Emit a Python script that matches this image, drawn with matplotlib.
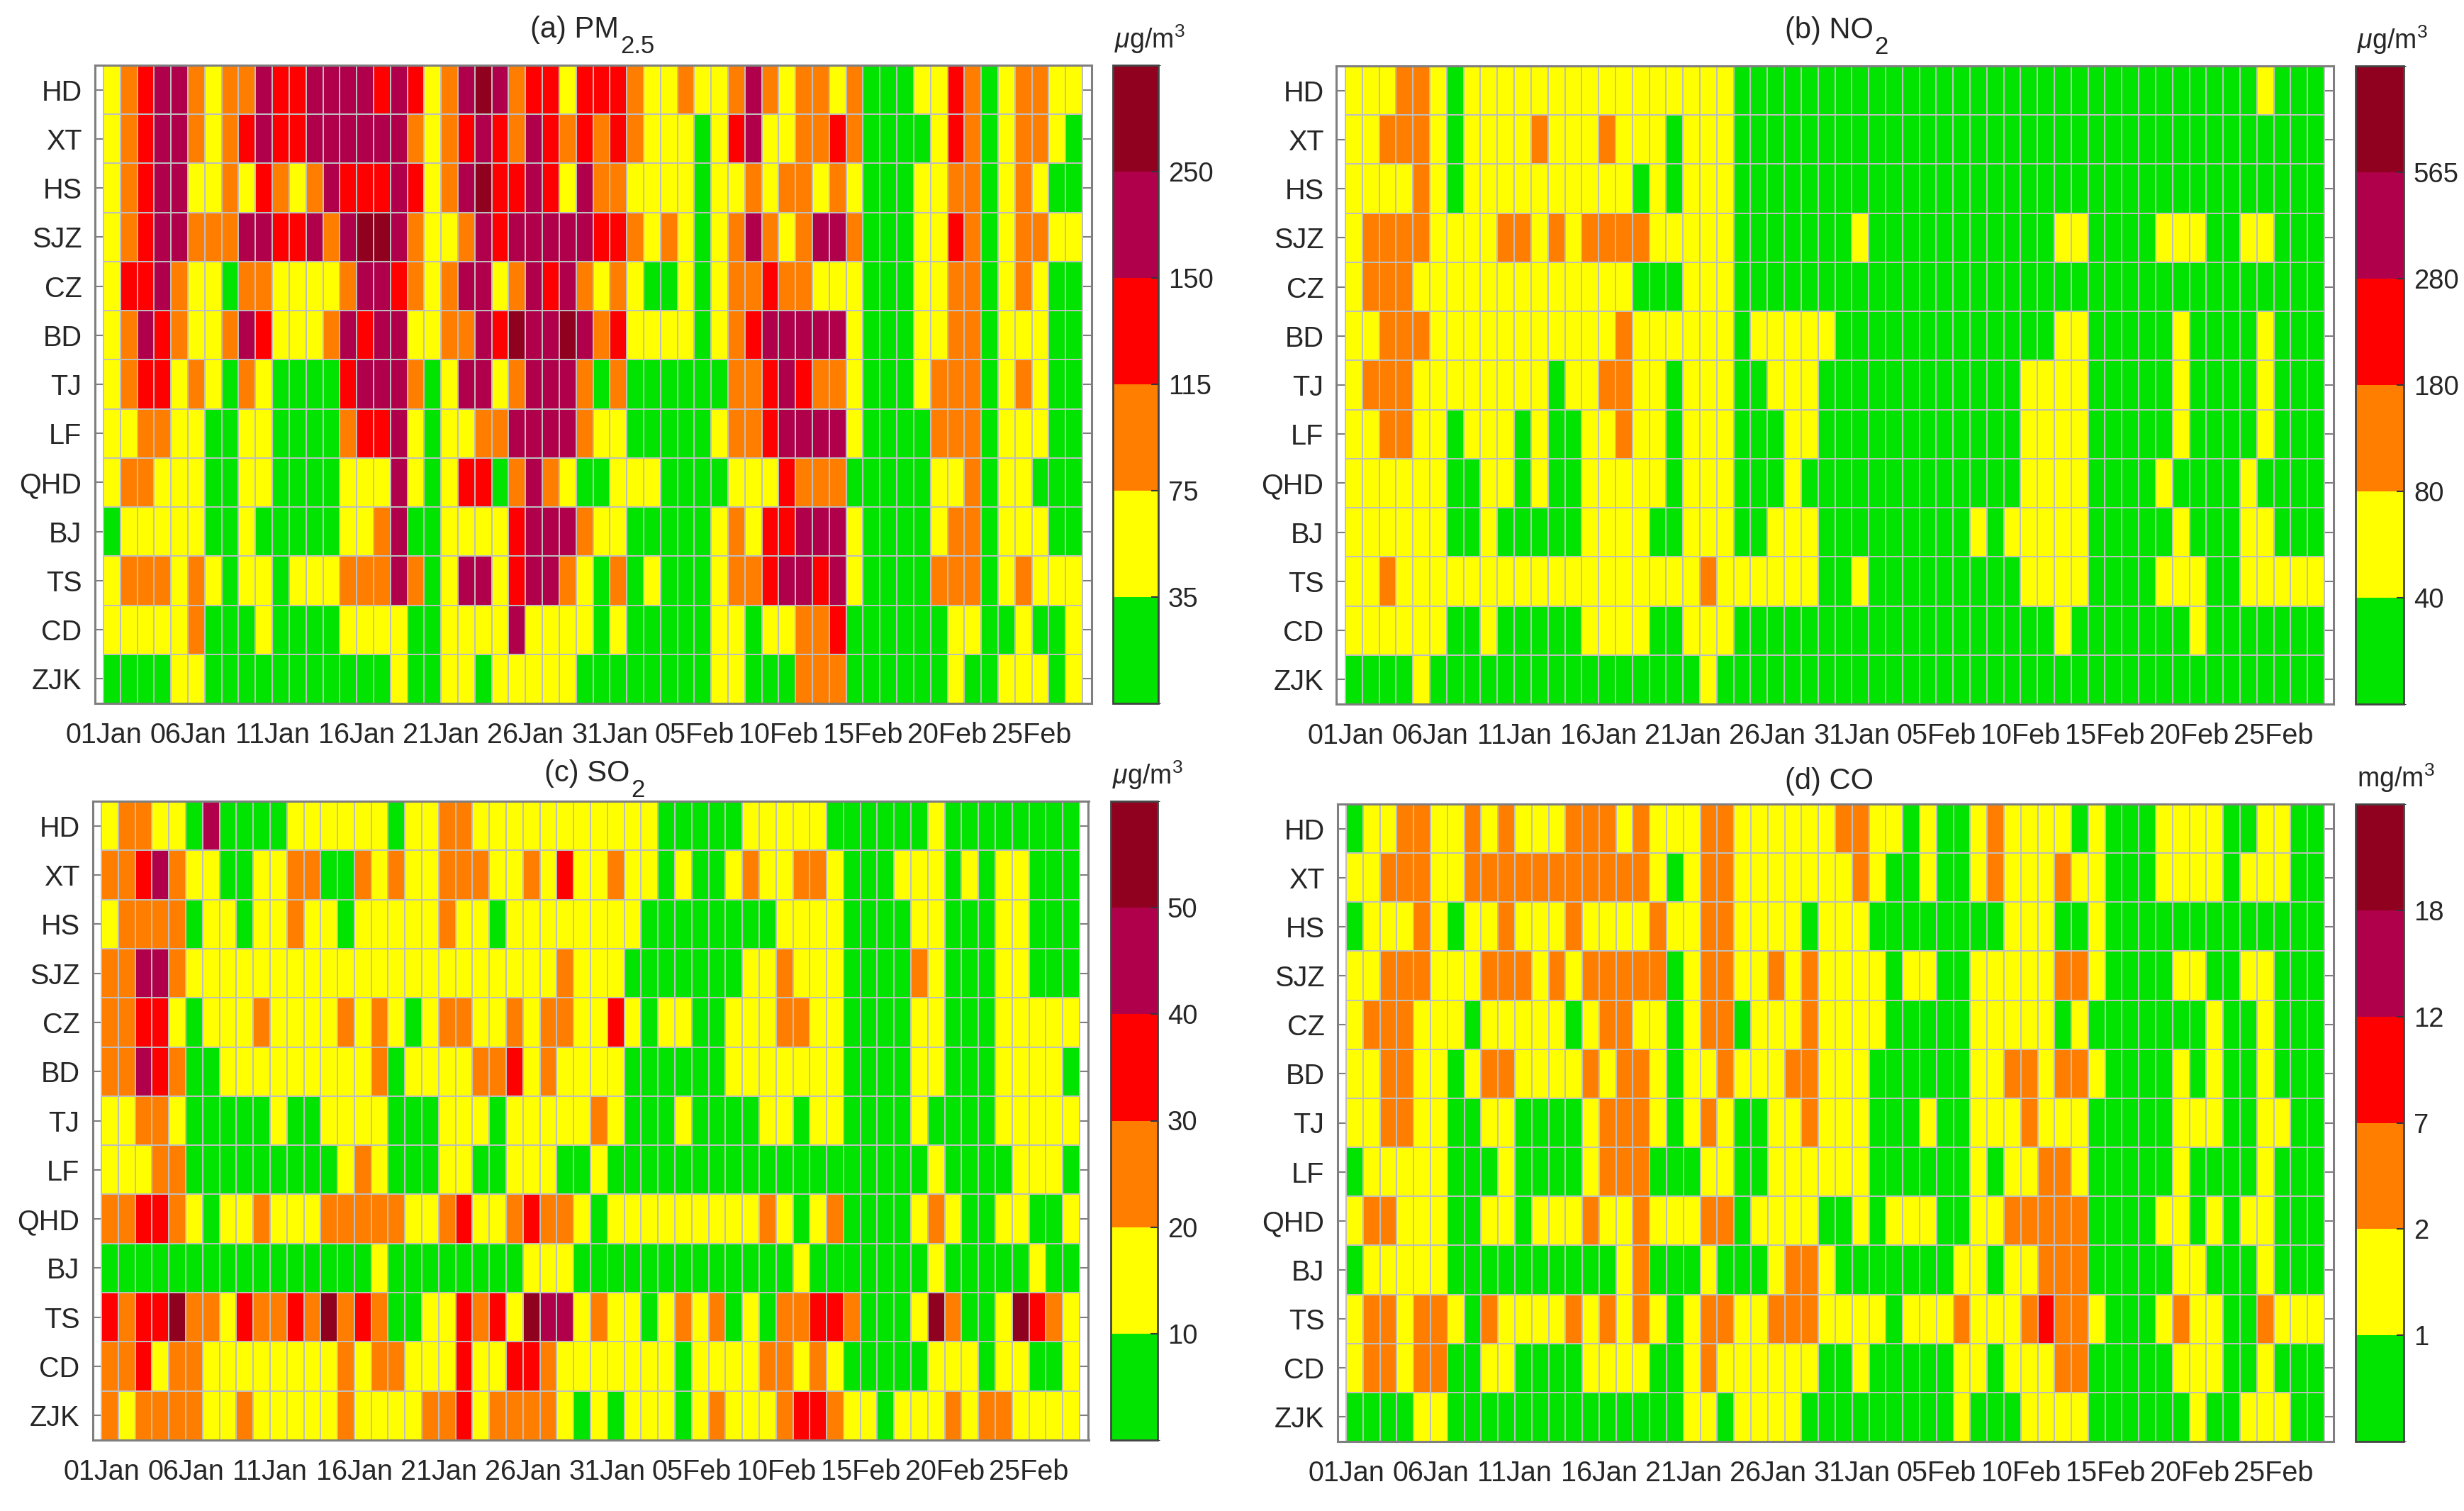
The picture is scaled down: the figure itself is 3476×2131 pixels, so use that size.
import numpy as np
import matplotlib
matplotlib.use("Agg")
import matplotlib.pyplot as plt
from matplotlib.colors import BoundaryNorm, ListedColormap

plt.rcParams["font.family"] = ["Liberation Sans", "DejaVu Sans"]
plt.rcParams["mathtext.fontset"] = "custom"
plt.rcParams["mathtext.rm"] = "Liberation Sans"
plt.rcParams["mathtext.it"] = "Liberation Sans:italic"
plt.rcParams["mathtext.default"] = "regular"

W, H = 3476, 2131
FS = 28.5
TEXT_COLOR = "#262626"
GRID_COLOR = "#BEBEBE"
SPINE_COLOR = "#7F7F7F"

CITIES = ["HD", "XT", "HS", "SJZ", "CZ", "BD", "TJ", "LF", "QHD", "BJ", "TS", "CD", "ZJK"]
DATE_LABELS = ["01Jan", "06Jan", "11Jan", "16Jan", "21Jan", "26Jan", "31Jan",
               "05Feb", "10Feb", "15Feb", "20Feb", "25Feb"]

# pollution class per day, one row per city: g y o r p d = classes 1..6
# (spaces only group the days so the rows are easier to check)
CLASS_KEYS = "gyorpd"
CLASS_COLORS = ["#00E400", "#FFFF00", "#FF7E00", "#FF0000", "#B0004C", "#90001F"]

PM25 = [
    "yorppoyoop rrpppprpry opdporryrr royyoyyopoyooyogggyyrogyooyy",
    "yorppoyorp rrppppppoy orproproro royyygyrpyyooroggggyrogyooyg",
    "yorppyyoyr oyoprrrpry opdrrprypo oyyyygyyoyooyoygggyyoogyoygg",
    "yorppooopp rrpopddpoy yoprpppppr royoygyopoyoppogggyyrogyooyy",
    "yrrpoyygoo yyyyopproy oppyoprpoy oyggygyoorooyyygggyyoogyoygg",
    "yoproyyopr yyyoprppyy ooprdppdpo ryyyygyorpppppygggyyoogyyygg",
    "yorryoygoy ggggrpppog yppyopppog oggggggoorprooygggyooogyoygg",
    "yyooyyggyy ggggorrpyg yyoopppp oy ygggggyoorppppyggggooogyyygg",
    "yooyyyggyy ggggyyypyg yrrgopoygg yyyggggyyyroooggggg yyogyyggg",
    "gyyyyyggyg ggggyyopgg yyyyrpppoy ygggggyoyrrpppyggggyoogyyygg",
    "yoooyoygyy gyyyooopog yppyrppoyg ogygggyoorpprpyggggooogyoyyy",
    "yyyyyogggy ggggyyyygg yyyypyyyyg ygggggyygyyoorggggggyyggyggy",
    "ggggyygggg gggggggygg yygyyyyygg ggggggyygggoooggggggyggyyygy",
]

NO2 = [
    "yyyooyg yyyyyyyyyyyyyyyy gggggg ggggggggggggggggggggggggg y ggg",
    "yyoooygyyyyoyyyoyyygyyygggggg ggggggggggggggggggggggggggggg",
    "yyyyoyg yyyyyyyyyy gygyyy gggggg ggggggggggggggggggggggggggggg",
    "yooooyyyyooyoyooooyyyyygggggg gy ggggggggggg yy gggg yyy gg yy ggg",
    "y ooo yyyyyyyyyyyyy ggg yyy gggggg ggggggggggggggggggggggggggggg",
    "yy ooo yyyyyyyyyyy o yyyyyy g yyyyy ggggggggggggg yy ggggg y gggg y ggg",
    "y ooo yyyyyyyy g yy oo yy g yyy gg yyy g ggggggggggg yyyy ggggg y gggg y ggg",
    "yyooyygyyygyggyyoyygyyygggyyg ggggggggggg yyyy ggggg y gggg y ggg",
    "yyyyyy gg yy g y gg yyyyy g yyy ggg y gg ggggggggggg yyyy gggg y gggg y gggg",
    "yyyyyy gg y ggggg yyyy gg yyy gg yyy g gggggggg y g yyyyy ggggg y ggg yy ggg",
    "yy o yyyyyyyyyyyyyyyyyy o yyyyyy g g y ggggggggg yyyy gggg yyy gg yyyyy",
    "yyyyyy gg y ggggg yyyy gg yyy gggggg ggggggggggggg y ggggggg y ggggggg",
    "gggg y gggggggggggggggg y ggggggg ggggggggggggggggggggggggggggg",
]

SO2 = [
    "yooyygpgggg yyyyyy g yy oo yyyyyyy yyyy ggggg yyyyy gggggg y gggggggg",
    "oorpoyyggyyooggoyoyyoooyyoyry yoyygyggyoyyooygggyyygygyyggg",
    "yoooogyygyyoyygyyyyyoyygyyyyy yyyggggggggyyyyggggyygggyyggg",
    "oopp o yyyyyyyyyyyyyyyyyyyyyy oy yy ggggggg yy o yyy gggg o y ggg yy ggg",
    "oorrygyyyoyyyyoyoygyooyyoyooy y r y g yy gg yyy oo yy gggg yy ggg yyyyy",
    "oopro gg yyyyyyyyy o g yyyy oo r y o yy yy gggggg yyyyyyy gggg yy ggg yyyy g",
    "yy oo y ggggg y gg yyyy ggg yyy g yyyyy o y ggg y gggg yy g yy gggg y gggg yyyyy",
    "yyy oo ggggggggg y o y ggg yy gg yyy gg y ggggggggggggggggggg y gggg yyy g",
    "oorroygyyoyyyooooo yy o r yy o r oo y g yyyyyyyyy o y g y o gggg y o y gg yy gg y",
    "gggggggggggggggg y gggggggg yyy g gggggggggggg y ggggggg y ggggg y gg",
    "rorrdooyrooro doro gg yy ror y d pp y oyygyoyogyg oorrogggy dogg ydroy",
    "oo r y oo yyyyyyyy o y oo yyy r yy rr o yy yyyyy g yyyy oo y o y ggggg yyy g yy gg y",
    "oyooooyyo yyyyy o yyyy oo r y oooo y g ygyyygyoyyyorroyygyyyoyooyyyy",
]

CO = [
    "gyyooyyoyoyyyoooyoyyyooyyyyyy ooyygyggyoyyyygygggyyyyggyygg",
    "yy ooo yy ooooooooooo y g y oo yyyyyy yoyggyggyoyyyoyygggyyyygyyygg",
    "gyyyoygyyoyyyoyyyyoyyooyyyygy yy gggggggg yyy gg y ggggggggggggg",
    "yy ooo yyy ooo y o y ooooo g y oo yy o y o y yyygyyggyyyyyooyggggyyggyyggg",
    "yoooyyygyyyyygyooyygyoogyyyoy yyy ggggg yyyyy g y ggggggg y gg y ggg",
    "yyooyygyooyyyyoyooygyyoyyyooy yy gggggg yy oo y oo y gggg y g y gg y ggg",
    "yyooyyggyyggggyoooygyoyggyyoy yyggg y gg yyy o yyy ggggg yyy gg yy gg",
    "gyyyyygggyggggyooogggyyggyyyy yy gggggg y g yy oo y ggggg y gggg y ggg",
    "yooyyyggyygyyyoyyoyyyoogyyyyg g y g yyy gg yy ooooo gggg yy g y g yy ggg",
    "g yyyyy gggggggggg y o ggg y ggg y oo y ggggggg yy g yy ooo ggggg yy ggg y ggg",
    "yooyooygoyyyyoyoyoygyooyyoooy yyygyyyoyyyoroo y ggg y o yy gg o yyy",
    "yooyooggyyggggyyyyggyoyyyyyyg g y ggggg yy g yyy oo ggggg yyy gg y ggg",
    "gggg yy gggggggggggggg yy g yyyy gg ggggggg y ggg yyyy gggggg y gg yyy gg",
]

# title, subscript, rows, colorbar labels, unit, heatmap px box, colorbar px box,
# title centre px, title baseline px
PANELS = [
    ("(a) PM", "2.5", PM25, ["35", "75", "115", "150", "250"], r"$\mathit{\mu}$g/m$^3$",
     (146, 92, 1527, 992), (1570, 92, 1634, 992), 835, 53),
    ("(b) NO", "2", NO2, ["40", "80", "180", "280", "565"], r"$\mathit{\mu}$g/m$^3$",
     (1898, 93, 3279, 993), (3323, 93, 3391, 993), 2590, 54),
    ("(c) SO", "2", SO2, ["10", "20", "30", "40", "50"], r"$\mathit{\mu}$g/m$^3$",
     (143, 1130, 1523, 2031), (1567, 1130, 1633, 2031), 838, 1102),
    ("(d) CO", "", CO, ["1", "2", "7", "12", "18"], "mg/m$^3$",
     (1899, 1134, 3279, 2033), (3323, 1134, 3391, 2033), 2580, 1113),
]


def rows_to_levels(rows):
    rows = [r.replace(" ", "") for r in rows]
    for r in rows:
        if len(r) != 58:
            raise SystemExit(f"bad row length {len(r)}: {r}")
    return np.array([[CLASS_KEYS.index(c) + 1 for c in r] for r in rows])


def axes_from_px(fig, box):
    x0, y0, x1, y1 = box
    return fig.add_axes([x0 / W, 1 - y1 / H, (x1 - x0) / W, (y1 - y0) / H])


def draw_title(fig, main_text, sub_text, center_x, baseline_y):
    # subscript here is nearly full size, mathtext would make it much smaller
    renderer = fig.canvas.get_renderer()
    main = fig.text(0, 1 - baseline_y / H, main_text, ha="left", va="baseline",
                    fontsize=30, color=TEXT_COLOR)
    main_w = main.get_window_extent(renderer).width
    sub = None
    sub_w = 0
    if sub_text:
        sub = fig.text(0, 1 - (baseline_y + 22) / H, sub_text, ha="left", va="baseline",
                       fontsize=25, color=TEXT_COLOR)
        sub_w = sub.get_window_extent(renderer).width
    left = center_x - (main_w + sub_w) / 2
    main.set_x(left / W)
    if sub is not None:
        sub.set_x((left + main_w + 2) / W)


def main():
    fig = plt.figure(figsize=(W / 100, H / 100), dpi=100)
    cmap = ListedColormap(CLASS_COLORS)
    norm = BoundaryNorm(np.arange(0.5, 7.5), cmap.N)

    for title, sub, rows, cb_labels, unit, box, cb_box, title_x, title_y in PANELS:
        levels = rows_to_levels(rows)
        n_rows, n_days = levels.shape

        # the axes frame sticks out about half a day past the cells on both sides
        margin = 12.5 / ((box[2] - box[0]) / n_days)
        ax = axes_from_px(fig, (box[0] - 12.5, box[1], box[2] + 12.5, box[3]))
        mesh = ax.pcolormesh(
            np.arange(n_days + 1),
            np.arange(n_rows + 1),
            levels,
            cmap=cmap,
            norm=norm,
            edgecolors=GRID_COLOR,
            linewidth=1.2,
        )
        ax.set_xlim(-margin, n_days + margin)
        ax.set_ylim(n_rows, 0)
        ax.set_axisbelow(True)

        ax.set_xticks(np.arange(len(DATE_LABELS)) * 5)
        ax.set_xticklabels(DATE_LABELS)
        ax.set_yticks(np.arange(n_rows) + 0.5)
        ax.set_yticklabels(CITIES)
        ax.tick_params(axis="x", direction="in", length=8, width=1.5, color=SPINE_COLOR,
                       labelsize=FS, labelcolor=TEXT_COLOR, pad=19)
        ax.tick_params(axis="y", direction="in", length=8.5, width=1.5, color=SPINE_COLOR,
                       labelsize=FS, labelcolor=TEXT_COLOR, pad=13, right=True)
        for spine in ax.spines.values():
            spine.set_color(SPINE_COLOR)
            spine.set_linewidth(2.2)

        draw_title(fig, title, sub, title_x, title_y)

        cax = axes_from_px(fig, cb_box)
        cb = fig.colorbar(mesh, cax=cax, ticks=np.arange(1, 6) + 0.5, spacing="uniform")
        cb.ax.set_yticklabels(cb_labels)
        cb.ax.tick_params(direction="in", length=7, width=1.5, color="#333344",
                          labelsize=FS - 1, labelcolor=TEXT_COLOR, pad=10)
        cb.outline.set_edgecolor("#444444")
        cb.outline.set_linewidth(2.0)

        fig.text((cb_box[0] + 2) / W, 1 - (cb_box[1] - 14) / H, unit, ha="left", va="bottom",
                 fontsize=27, color=TEXT_COLOR)

    fig.savefig("out.png", dpi=100)
    plt.close(fig)


if __name__ == "__main__":
    main()
